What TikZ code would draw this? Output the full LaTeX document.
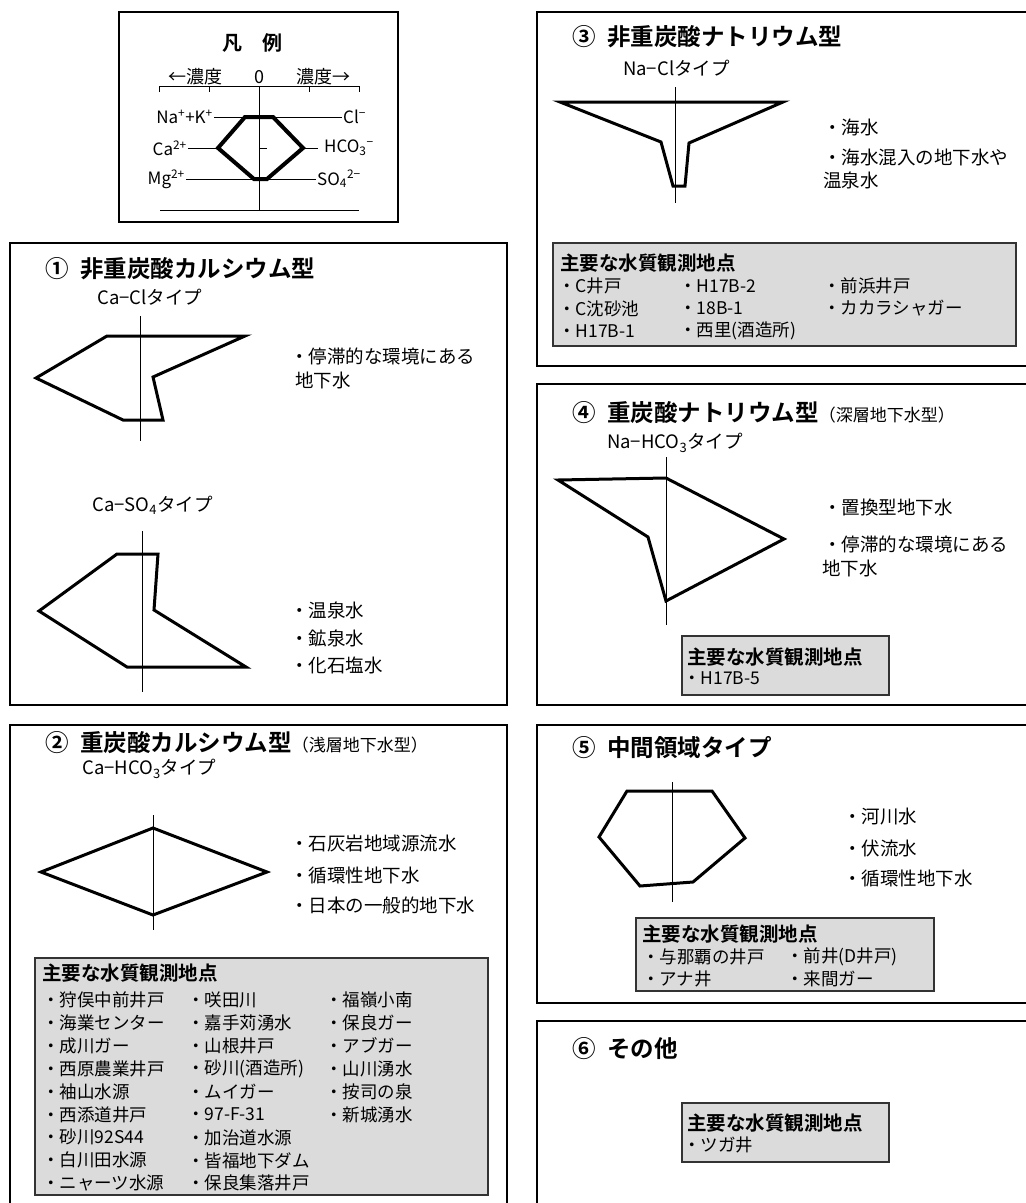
\documentclass[tikz,border=0pt]{standalone}
\usepackage{fontspec}
\setmainfont{Noto Sans CJK JP}[BoldFont={Noto Sans CJK JP Bold}]
\newcommand{\parenfnt}{\fontsize{17}{20}\selectfont\mdseries}
\tikzset{
    panel/.style={draw, line width=2.5pt},
    listbox/.style={draw=black!80, fill=black!14, line width=1.2pt},
    chart/.style={line width=3pt},
    axisline/.style={line width=1pt},
    thin line/.style={line width=0.8pt},
    ttl/.style={anchor=west, inner sep=0pt, font=\fontsize{23.5}{26}\selectfont\bfseries},
    note/.style={anchor=west, inner sep=0pt, font=\fontsize{18.5}{20}\selectfont},
    listttl/.style={anchor=west, inner sep=0pt, font=\fontsize{19.5}{22}\selectfont\bfseries},
    item/.style={anchor=west, inner sep=0pt, font=\fontsize{17.5}{19}\selectfont},
    ion/.style={inner sep=1pt, font=\fontsize{17}{18}\selectfont}
}

\begin{document}
\begin{tikzpicture}[x=1pt, y=-1pt]
\useasboundingbox (0,0) rectangle (1026,1203);
\clip (0,0) rectangle (1026,1203);

% legend
\draw[panel] (119,12) rectangle (398,222);
\node[inner sep=0pt, font=\fontsize{20}{22}\selectfont\bfseries] (lgTitle) at (252,43) {凡　例};
\node[ion, font=\fontsize{18}{20}\selectfont] (lgLeft) at (195,77) {←濃度};
\node[ion, font=\fontsize{18}{20}\selectfont] (lgZero) at (259,77) {0};
\node[ion, font=\fontsize{18}{20}\selectfont] (lgRight) at (323,77) {濃度→};
\draw[thin line] (159,92) -- (159,86) -- (359,86) -- (359,92);
\foreach \x in {209,309}
    \draw[thin line] (\x,86) -- (\x,92);
\draw[thin line] (160,210) -- (359,210);
\node[ion, anchor=east] (naK) at (214,117) {Na\textsuperscript{+}+K\textsuperscript{+}};
\node[ion, anchor=west] (clm) at (342,117) {Cl\textsuperscript{−}};
\node[ion, anchor=east] (ca2) at (188,148) {Ca\textsuperscript{2+}};
\node[ion, anchor=west] (hco3) at (323,148) {HCO\textsubscript{3}\textsuperscript{−}};
\node[ion, anchor=east] (mg2) at (186,179) {Mg\textsuperscript{2+}};
\node[ion, anchor=west] (so4) at (316,179) {SO\textsubscript{4}\textsuperscript{2−}};
\draw[thin line] (naK) -- (clm);
\draw[thin line, shorten >=5pt] (ca2) -- (hco3);
\draw[thin line] (mg2) -- (so4);
\draw[line width=4pt, fill=white] (245,117) -- (273,117) -- (303,148) -- (267,179) -- (254,179) -- (218,148) -- cycle;
\draw[thin line] (259,86) -- (259,210);
\draw[thin line] (259,148) -- (267,148);

% (1) Ca-Cl / Ca-SO4
\draw[panel] (10,243) rectangle (507,705);
\node[ttl] (t1) at (45,269) {①\enspace 非重炭酸カルシウム型};
\node[note] (k1a) at (97,297) {Ca−Clタイプ};
\draw[axisline] (140,316) -- (140,441);
\draw[chart] (107,336) -- (245,336) -- (153,377) -- (163,420) -- (123,420) -- (36,378) -- cycle;
\node[note] (d1a) at (290,357) {・停滞的な環境にある};
\node[note] (d1b) at (295,380) {地下水};
\node[note] (k1b) at (92,505) {Ca−SO\textsubscript{4}タイプ};
\draw[axisline] (142,531) -- (142,692);
\draw[chart] (117,554) -- (158,554) -- (154,610) -- (246,667) -- (127,667) -- (39,611) -- cycle;
\node[note] (d1c) at (290,610) {・温泉水};
\node[note] (d1d) at (290,638) {・鉱泉水};
\node[note] (d1e) at (290,665) {・化石塩水};

% (2) Ca-HCO3
\draw[panel] (10,725) rectangle (507,1215);
\node[ttl] (t2) at (45,743) {②\enspace 重炭酸カルシウム型{\parenfnt （浅層地下水型）}};
\node[note] (k2) at (82,769) {Ca−HCO\textsubscript{3}タイプ};
\draw[axisline] (153,815) -- (153,930);
\draw[chart] (153,828) -- (267,872) -- (153,915) -- (41,872) -- cycle;
\node[note] (d2a) at (290,843) {・石灰岩地域源流水};
\node[note] (d2b) at (290,875) {・循環性地下水};
\node[note] (d2c) at (290,905) {・日本の一般的地下水};
\draw[listbox] (35,958) rectangle (488,1195);
\node[listttl] (m2) at (42,973) {主要な水質観測地点};
\foreach \t [count=\i] in {狩俣中前井戸,海業センター,成川ガー,西原農業井戸,袖山水源,西添道井戸,砂川92S44,白川田水源,ニャーツ水源}
    \node[item] (p2a\i) at (42,{1000+22.9*(\i-1)}) {・\t};
\foreach \t [count=\i] in {咲田川,嘉手苅湧水,山根井戸,砂川(酒造所),ムイガー,97-F-31,加治道水源,皆福地下ダム,保良集落井戸}
    \node[item] (p2b\i) at (187,{1000+22.9*(\i-1)}) {・\t};
\foreach \t [count=\i] in {福嶺小南,保良ガー,アブガー,山川湧水,按司の泉,新城湧水}
    \node[item] (p2c\i) at (325,{1000+22.9*(\i-1)}) {・\t};

% (3) Na-Cl
\draw[panel] (537,12) rectangle (1040,366);
\node[ttl] (t3) at (572,37) {③\enspace 非重炭酸ナトリウム型};
\node[note] (k3) at (623,68) {Na−Clタイプ};
\draw[axisline] (675,87) -- (675,203);
\draw[chart] (560,102) -- (783,102) -- (689,143) -- (685,186) -- (673,186) -- (661,142) -- cycle;
\node[note] (d3a) at (823,127) {・海水};
\node[note] (d3b) at (823,157) {・海水混入の地下水や};
\node[note] (d3c) at (823,180) {温泉水};
\draw[listbox] (553,243) rectangle (1016,346);
\node[listttl] (m3) at (560,263) {主要な水質観測地点};
\foreach \t [count=\i] in {C井戸,C沈砂池,H17B-1}
    \node[item] (p3a\i) at (558,{286+22.5*(\i-1)}) {・\t};
\foreach \t [count=\i] in {H17B-2,18B-1,西里(酒造所)}
    \node[item] (p3b\i) at (679,{286+22.5*(\i-1)}) {・\t};
\foreach \t [count=\i] in {前浜井戸,カカラシャガー}
    \node[item] (p3c\i) at (823,{286+22.5*(\i-1)}) {・\t};

% (4) Na-HCO3
\draw[panel] (537,384) rectangle (1040,705);
\node[ttl] (t4) at (572,413) {④\enspace 重炭酸ナトリウム型{\parenfnt （深層地下水型）}};
\node[note] (k4) at (607,443) {Na−HCO\textsubscript{3}タイプ};
\draw[axisline] (666,457) -- (666,625);
\draw[chart] (558,480) -- (666,478) -- (784,539) -- (666,601) -- (648,537) -- cycle;
\node[note] (d4a) at (823,507) {・置換型地下水};
\node[note] (d4b) at (823,545) {・停滞的な環境にある};
\node[note] (d4c) at (822,568) {地下水};
\draw[listbox] (682,636) rectangle (889,695);
\node[listttl] (m4) at (687,657) {主要な水質観測地点};
\node[item] (p4a1) at (683,678) {・H17B-5};

% (5) intermediate
\draw[panel] (537,725) rectangle (1040,1003);
\node[ttl] (t5) at (572,748) {⑤\enspace 中間領域タイプ};
\draw[axisline] (672,782) -- (672,902);
\draw[chart] (627,791) -- (712,791) -- (745,838) -- (693,882) -- (640,886) -- (599,837) -- cycle;
\node[note] (d5a) at (843,817) {・河川水};
\node[note] (d5b) at (843,848) {・伏流水};
\node[note] (d5c) at (843,878) {・循環性地下水};
\draw[listbox] (636,918) rectangle (934,991);
\node[listttl] (m5) at (642,934) {主要な水質観測地点};
\node[item] (p5a1) at (642,957) {・与那覇の井戸};
\node[item] (p5a2) at (642,979) {・アナ井};
\node[item] (p5b1) at (786,957) {・前井(D井戸)};
\node[item] (p5b2) at (786,979) {・来間ガー};

% (6) others
\draw[panel] (537,1021) rectangle (1040,1215);
\node[ttl] (t6) at (572,1049) {⑥\enspace その他};
\draw[listbox] (682,1103) rectangle (889,1162);
\node[listttl] (m6) at (687,1123) {主要な水質観測地点};
\node[item] (p6a1) at (683,1145) {・ツガ井};
\end{tikzpicture}
\end{document}
